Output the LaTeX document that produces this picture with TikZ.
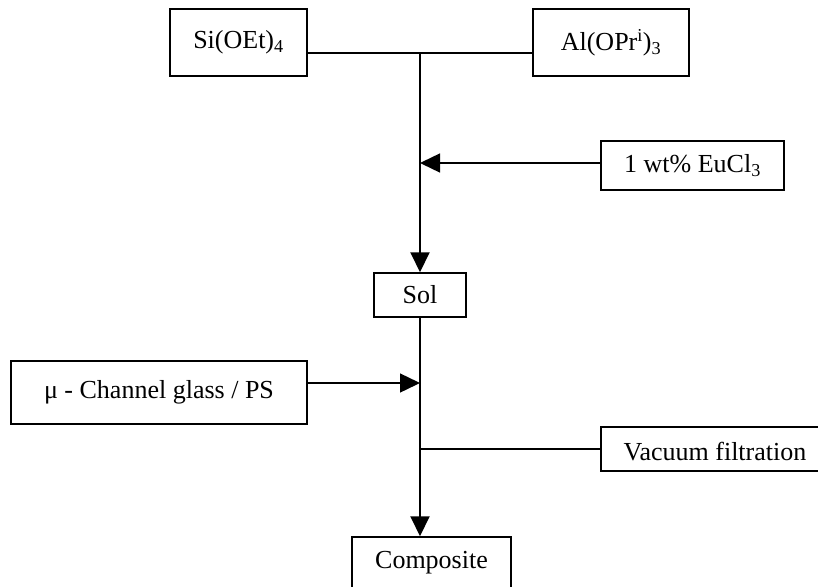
\documentclass[tikz,border=0pt]{standalone}
\usepackage{fontspec}
\setmainfont{Liberation Serif}
\usetikzlibrary{arrows.meta}
\begin{document}
\begin{tikzpicture}[x=1pt,y=-1pt,
  box/.style={draw,line width=1.5pt,inner sep=0pt,font=\fontsize{26}{30}\selectfont},
  trunk/.style={line width=2pt},
  feed/.style={line width=1.4pt},
  tip/.style={-{Triangle[length=20pt,width=19pt]}}]
\useasboundingbox (0,0) rectangle (818,586);
\clip (0,0) rectangle (818,586);
\node[box,minimum width=137pt,minimum height=67pt] (si) at (238.5,42.5) {Si(OEt)\textsubscript{4}};
\node[box,minimum width=156pt,minimum height=67pt] (al) at (611,42.5) {Al(OPr\textsuperscript{i})\textsubscript{3}};
\node[box,minimum width=183pt,minimum height=49pt] (eu) at (692.5,165.5) {1 wt\% EuCl\textsubscript{3}};
\node[box,minimum width=92pt,minimum height=44pt] (sol) at (420,295) {Sol};
\node[box,minimum width=296pt,minimum height=63pt] (ch) at (159,392.5) {μ - Channel glass / PS};
\node[box,minimum width=228pt,minimum height=44pt] (vac) at (715,449) {};
\node[font=\fontsize{26}{30}\selectfont] (vact) at (715,452) {Vacuum filtration};
\node[box,minimum width=159pt,minimum height=52pt] (comp) at (431.5,563) {Composite};
\coordinate (j1) at (420,53);
\coordinate (j2) at (420,163);
\coordinate (j3) at (420,383);
\coordinate (j4) at (420,449);
\draw[feed] (si.east |- j1) -- (al.west |- j1);
\draw[trunk,tip] (j1) -- (sol.north);
\draw[feed,tip] (eu.west |- j2) -- (j2);
\draw[trunk,tip] (sol.south) -- (sol.south |- comp.north);
\draw[feed,tip] (ch.east |- j3) -- (j3);
\draw[feed] (j4) -- (vac.west |- j4);
\end{tikzpicture}
\end{document}
